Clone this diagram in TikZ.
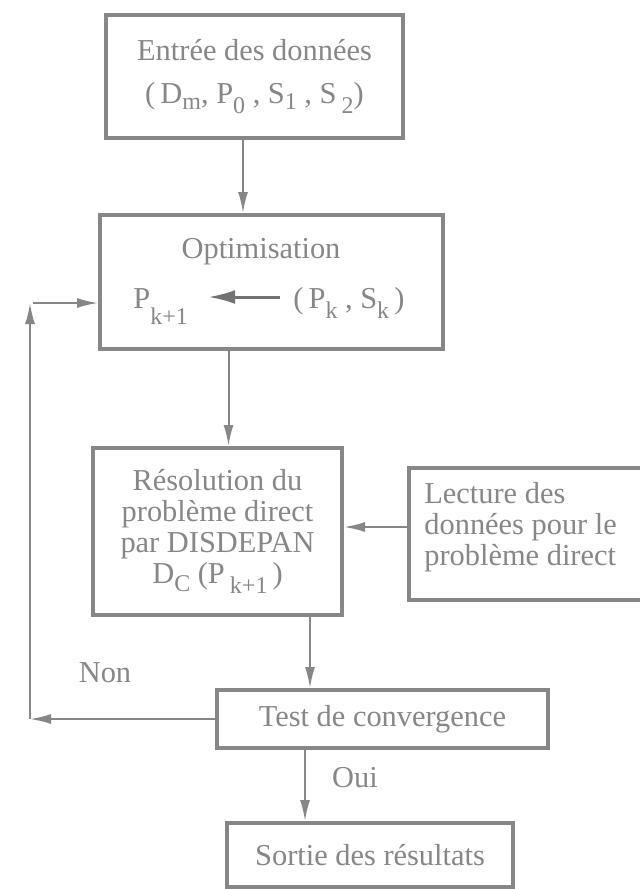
\documentclass[tikz,border=0pt]{standalone}
\usepackage{fontspec}
\setmainfont{Liberation Serif}
\usetikzlibrary{arrows.meta,positioning}
\definecolor{inkgray}{RGB}{135,135,135}
\newcommand{\lowsub}[2][5pt]{\raisebox{-#1}{\fontsize{12}{12}\selectfont #2}}

\begin{document}
\begin{tikzpicture}[
  x=0.5pt, y=-0.5pt,
  every node/.style={text=inkgray, font=\fontsize{15.2}{15.4}\selectfont},
  stage/.style={rectangle, draw=inkgray, line width=2pt, align=center, inner sep=0pt},
  txt/.style={inner sep=0pt, align=left},
  arrow/.style={-{Latex[length=10.5pt,width=5pt]}, line width=1pt, draw=inkgray},
  bigarrow/.style={-{Latex[length=13.5pt,width=7pt]}, line width=1.5pt, draw=inkgray!85!black}
]
  \useasboundingbox[fill=white] (0,0) rectangle (639,889);

  \node[stage, minimum width=148.5pt, minimum height=61.5pt] (entree) at (254.5,76.5)
    {Entrée des données\\[6pt](\,D\lowsub[3pt]{m}, P\lowsub{0} , S\lowsub[3pt]{1} , S\,\lowsub{2})};

  \node[stage, minimum width=171.5pt, minimum height=67pt] (optim) at (271.5,282) {};
  \node[txt, anchor=base] (optimtitle) at (261,258) {Optimisation};
  \node[txt, anchor=base west] (pnext) at (133,308) {P\lowsub[8pt]{k+1}};
  \node[txt, anchor=base west] (pk) at (293,308) {(\,P\lowsub{k} , S\lowsub{k}\,)};

  \node[stage, minimum width=124.5pt, minimum height=83.5pt] (resol) at (217.5,531.5)
    {Résolution du\\problème direct\\par DISDEPAN\\D\lowsub[4pt]{C} (P\,\lowsub{k+1}\,)};
  \node[stage, minimum width=128pt, minimum height=66pt] (lecture) at (537,534) {};
  \node[txt, anchor=north west] (lecturetxt) at (424,482)
    {Lecture des\\données pour le\\problème direct};

  \node[stage, minimum width=165.5pt, minimum height=29pt] (test) at (382.5,719) {Test de convergence};
  \node[stage, minimum width=143pt, minimum height=32pt] (sortie) at (370,855) {Sortie des résultats};

  \node (non) at (105,673) {Non};
  \node (oui) at (355,778) {Oui};

  \coordinate (loopx) at (30,0);
  \coordinate (looptop) at (30,303);

  \draw[arrow] ([xshift=-5.75pt]entree.south) -- ([xshift=-5.75pt]entree.south |- optim.north);
  \draw[bigarrow, shorten >=10pt] ([xshift=-6.5pt,yshift=5.5pt]pk.base west) -- ([yshift=5.5pt]pk.base west -| pnext.east);
  \draw[arrow] ([xshift=5.5pt]resol.north |- optim.south) -- ([xshift=5.5pt]resol.north);
  \draw[arrow] ([yshift=2.25pt]resol.east -| lecture.west) -- ([yshift=2.25pt]resol.east);
  \draw[arrow] ([xshift=46.25pt]resol.south) -- ([xshift=46.25pt]resol.south |- test.north);
  \draw[arrow] ([xshift=-38.75pt]test.south) -- ([xshift=-38.75pt]test.south |- sortie.north);
  \draw[arrow] (test.west) -- (test.west -| loopx);
  \draw[arrow] (test.west -| loopx) -- (looptop);
  \draw[arrow] ([xshift=1.5pt]looptop) -- (looptop -| optim.west);
\end{tikzpicture}
\end{document}
